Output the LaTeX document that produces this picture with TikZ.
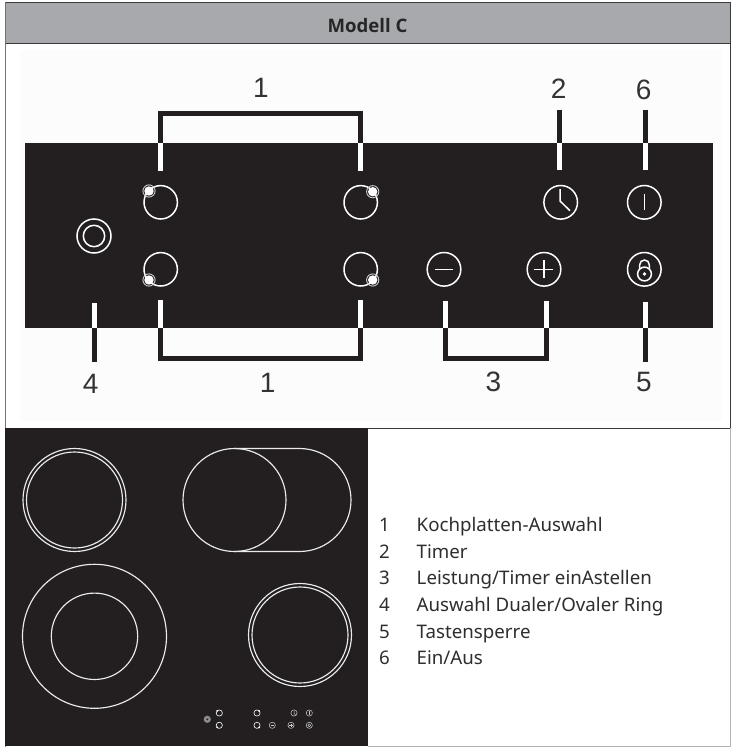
\documentclass[tikz,border=0pt]{standalone}
\usepackage{fontspec}
\setmainfont{Noto Sans}[BoldFont={Open Sans Bold}]
\newfontfamily\arialfont{Liberation Sans}
\definecolor{panel}{HTML}{231F20}
\definecolor{headbg}{HTML}{A7A9AC}
\definecolor{rulec}{HTML}{3A3A3A}
\tikzset{
  x=1pt,y=-1pt,
  whl/.style={draw=white,line width=1.5pt},
  ring/.style={draw=white!92!black,line width=1.15pt},
  barb/.style={draw=panel,line width=5pt},
  barw/.style={draw=white,line width=5pt},
  num/.style={font=\arialfont\fontsize{28}{28}\selectfont,text=black!80,inner sep=0pt},
  legend/.style={font=\fontsize{18.7}{20}\selectfont,text=black!82,anchor=base west,inner sep=0pt},
  tiny/.style={draw=white!80!black,line width=.5pt},
}
\newcommand{\zonebtn}[4]{% x y dx dy
  \draw[whl] (#1,#2) circle (16.7);
  \fill[white] (#1+#3,#2+#4) circle (4.7);
  \draw[draw=white!80!black,line width=.9pt] (#1+#3,#2+#4) circle (6.1);
}
\begin{document}
\begin{tikzpicture}
\useasboundingbox (0,0) rectangle (732,747);
\fill[white] (0,0) rectangle (732,747);
\fill[white!99!black] (20,50) rectangle (722,421);
% header
\fill[headbg] (5,2) rectangle (730,43);
\draw[rulec,line width=.8pt] (5,2) -- (730,2);
\draw[rulec,line width=.8pt] (5,43) -- (730,43);
\draw[black!55,line width=.8pt] (5,2) -- (5,747);
\draw[rulec,line width=.8pt] (730,2) -- (730,428);
\draw[rulec,line width=.8pt] (5,428) -- (730,428);
\draw[black!30,line width=.8pt] (368,746.3) -- (730.5,746.3) -- (730.5,428);
\node[font=\bfseries\fontsize{18.6}{20}\selectfont,text=black!85,anchor=base] (title) at (367.5,32.5) {Modell C};
% panel
\fill[panel] (25,143.3) rectangle (713,328);
% top brackets
\draw[barb] (160.5,143.3) -- (160.5,113.5) -- (360.5,113.5) -- (360.5,143.3);
\draw[barw] (160.5,143.3) -- (160.5,170.5);
\draw[barw] (360.5,143.3) -- (360.5,170.5);
\draw[barb] (559.7,109.5) -- (559.7,143.3); \draw[barw] (559.7,143.3) -- (559.7,169.5);
\draw[barb] (645.3,109.5) -- (645.3,143.3); \draw[barw] (645.3,143.3) -- (645.3,169.5);
% bottom brackets
\draw[barw] (160.7,328) -- (160.7,300); \draw[barw] (360.3,328) -- (360.3,300);
\draw[barb] (160.7,328) -- (160.7,358.2) -- (360.3,358.2) -- (360.3,328);
\draw[barw] (445.8,328) -- (445.8,301); \draw[barw] (546,328) -- (546,301);
\draw[barb] (445.8,328) -- (445.8,358.2) -- (546,358.2) -- (546,328);
\draw[barw] (94,328) -- (94,302.5); \draw[barb] (94,328) -- (94,362.3);
\draw[barw] (645.3,328) -- (645.3,302.3); \draw[barb] (645.3,328) -- (645.3,362.3);
% numbers
\node[num] (n1a) at (261,88) {1};
\node[num] (n2) at (558.7,88.3) {2};
\node[num] (n6) at (643.7,90) {6};
\node[num] (n4) at (90.7,384.3) {4};
\node[num] (n1b) at (267.7,383.3) {1};
\node[num] (n3) at (493.3,382.3) {3};
\node[num] (n5) at (644,382.3) {5};
% buttons
\draw[whl] (94,236) circle (17); \draw[whl] (94,236) circle (10.7);
\zonebtn{160.7}{202.3}{-11.7}{-11.3}
\zonebtn{160.7}{269.3}{-11.7}{10.7}
\zonebtn{360.7}{202.3}{12}{-10.6}
\zonebtn{360.7}{269.3}{12}{10.7}
\draw[whl] (560.7,202.3) circle (16.8);
\draw[whl] (560,189) -- (560,201) -- (570,210.7);
\draw[whl] (644.3,202.3) circle (16.8);
\draw[whl] (644.3,194) -- (644.3,210);
\draw[whl] (444,269.3) circle (16.8);
\draw[whl] (435,269.3) -- (453.3,269.3);
\draw[whl] (544,269.3) circle (16.8);
\draw[whl] (534.3,269.3) -- (552.7,269.3); \draw[whl] (544,260) -- (544,278);
\draw[whl] (644.3,269.3) circle (16.8);
\draw[whl] (644.5,274) circle (6.9);
\draw[whl] (639.7,268.5) -- (639.7,264.8) arc[start angle=180,end angle=360,radius=4.8] -- (649.3,268.5);
\fill[white] (644.5,274) circle (1.9);
% hob
\fill[panel] (5,427.7) rectangle (368,746.3);
\draw[ring] (74.5,500) circle (51.5);
\draw[ring] (74.5,500) circle (48);
\draw[ring] (234.5,500) circle (51.5);
\draw[ring] (234.5,448.5) -- (299.5,448.5) arc[start angle=-90,end angle=90,radius=51.5] -- (234.5,551.5);
\draw[ring] (94.5,636.3) circle (72);
\draw[ring] (94.5,636.3) circle (43.2);
\draw[ring] (300,635) circle (51.5);
\draw[ring] (300,635) circle (48);
% tiny controls
\fill[white!55!black] (207.3,719.3) circle (3.6); \fill[panel] (207.3,719.3) circle (1);
\foreach \px/\py/\ddx/\ddy in {219.3/713/-2.1/-2.1,219.3/725.3/-2.1/2.1,257/713/2.1/-2.1,257/725.3/2.1/2.1}{
  \draw[tiny,draw=white,line width=.6pt] (\px,\py) circle (3.1);
  \fill[white] (\px+\ddx,\py+\ddy) circle (1);
}
\foreach \px/\py in {294/713,309.3/713,272.3/725.3,291/725.3,309.3/725.3}{
  \draw[tiny] (\px,\py) circle (3.1);
}
\draw[tiny] (294,711) -- (294,713.5) -- (295.5,714.8);
\draw[tiny] (309.3,711.3) -- (309.3,714.7);
\draw[tiny] (270.5,725.3) -- (274.1,725.3);
\draw[tiny] (289.2,725.3) -- (292.8,725.3); \draw[tiny] (291,723.5) -- (291,727.1);
\draw[tiny] (309.3,725.3) circle (1.4);
% legend
\foreach \yy/\nn/\tt in {
  531.7/1/{Kochplatten-Auswahl},
  558.3/2/{Timer},
  584.9/3/{Leistung/Timer einAstellen},
  611.5/4/{Auswahl Dualer/Ovaler Ring},
  638.1/5/{Tastensperre},
  664.7/6/{Ein/Aus}}{
  \node[legend] at (379,\yy) {\nn};
  \node[legend] at (416.5,\yy) {\tt};
}
\end{tikzpicture}
\end{document}
